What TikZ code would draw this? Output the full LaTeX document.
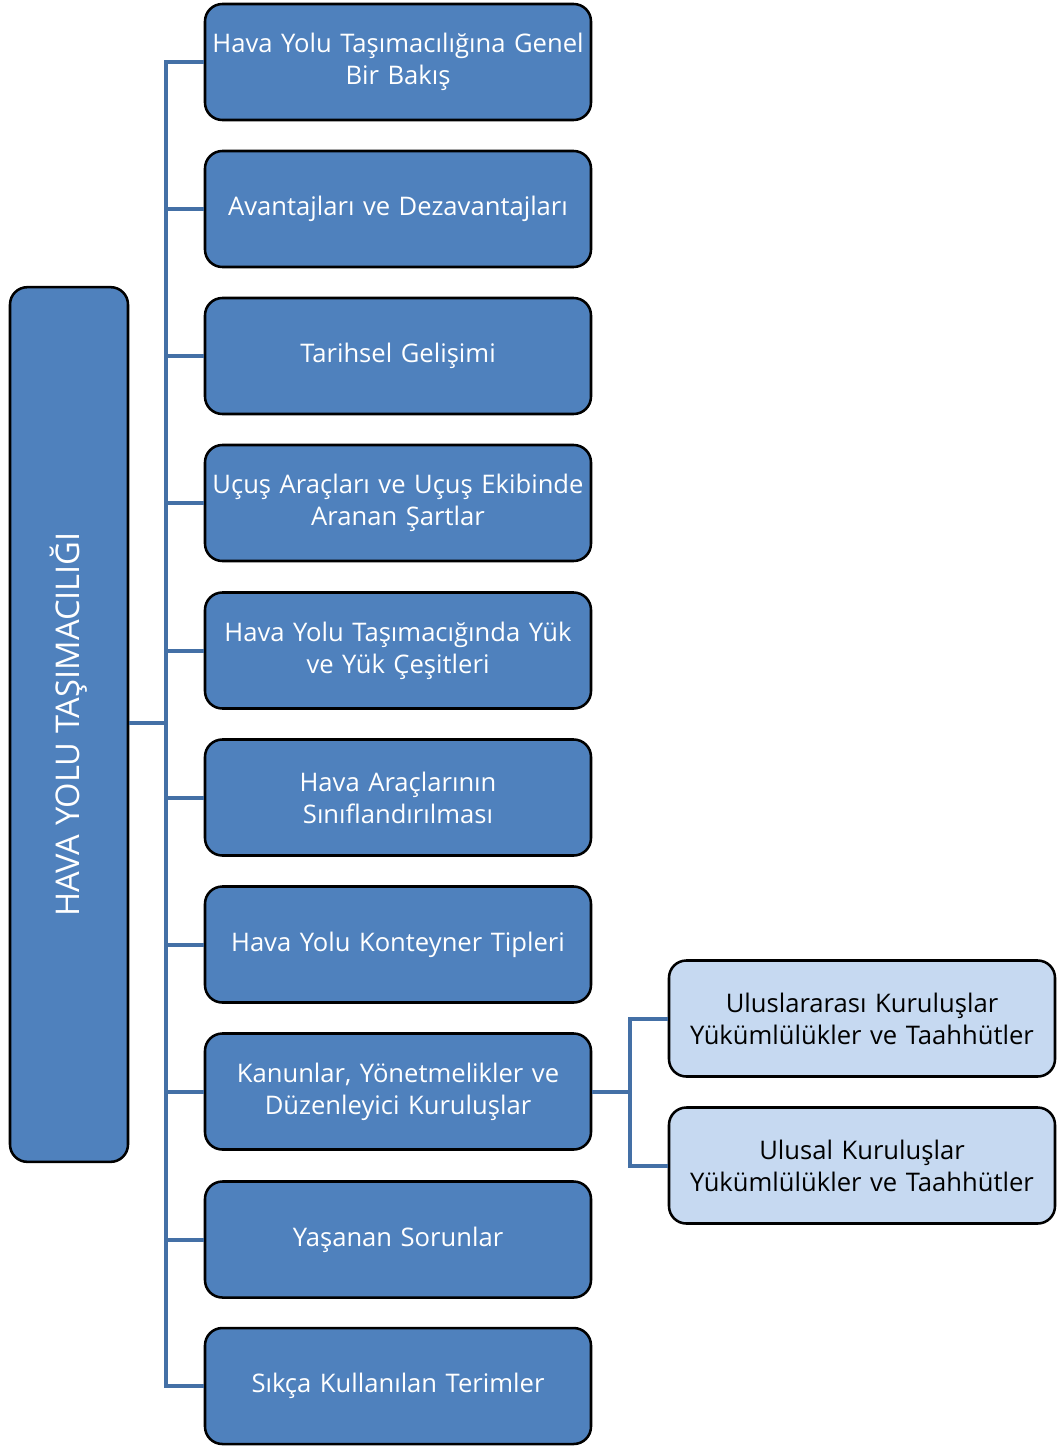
\documentclass[tikz,border=0pt]{standalone}
\usepackage{fontspec}
\setmainfont{Open Sans}
\begin{document}
\begin{tikzpicture}[x=0.75pt,y=-0.75pt,
  mainbox/.style={draw=black,line width=1.9pt,fill=boxblue,rounded corners=13pt,
    minimum width=289.5pt,minimum height=87pt,text width=287pt,align=center,
    text=white,font=\fontsize{19.2}{24}\selectfont,inner sep=0pt},
  subbox/.style={mainbox,fill=lightblue,text=black},
  conn/.style={draw=lineblue,line width=3pt}]
\definecolor{boxblue}{HTML}{4F81BD}
\definecolor{lightblue}{HTML}{C6D9F1}
\definecolor{lineblue}{HTML}{4470A6}
\useasboundingbox (0,0) rectangle (1059,1446);
\node[mainbox,minimum width=88.5pt,minimum height=656pt,text width=80pt] (L) at (69,724.5)
  {\rotatebox{90}{\fontsize{24.5}{28}\selectfont HAVA YOLU TAŞIMACILIĞI}};
\node[mainbox] (b1) at (398,62) {Hava Yolu Taşımacılığına Genel\\Bir Bakış};
\node[mainbox] (b2) at (398,209) {Avantajları ve Dezavantajları};
\node[mainbox] (b3) at (398,356) {Tarihsel Gelişimi};
\node[mainbox] (b4) at (398,503) {Uçuş Araçları ve Uçuş Ekibinde\\Aranan Şartlar};
\node[mainbox] (b5) at (398,650.5) {Hava Yolu Taşımacığında Yük\\ve Yük Çeşitleri};
\node[mainbox] (b6) at (398,797.5) {Hava Araçlarının\\Sınıflandırılması};
\node[mainbox] (b7) at (398,944.5) {Hava Yolu Konteyner Tipleri};
\node[mainbox] (b8) at (398,1091.5) {Kanunlar, Yönetmelikler ve\\Düzenleyici Kuruluşlar};
\node[mainbox] (b9) at (398,1239.5) {Yaşanan Sorunlar};
\node[mainbox] (b10) at (398,1386) {Sıkça Kullanılan Terimler};
\node[subbox] (s1) at (862,1018.5) {Uluslararası Kuruluşlar\\Yükümlülükler ve Taahhütler};
\node[subbox] (s2) at (862,1165.5) {Ulusal Kuruluşlar\\Yükümlülükler ve Taahhütler};
% connectors
\coordinate (j) at (166,723);
\coordinate (k) at (630,1092);
\draw[conn] (L.east |- j) -- (j);
\draw[conn,line cap=rect] (j |- b1.west) -- (j |- b10.west);
\foreach \b in {b1,b2,b3,b4,b5,b6,b7,b8,b9,b10}
  \draw[conn] (j |- \b.west) -- (\b.west);
\draw[conn] (b8.east) -- (k |- b8.east);
\draw[conn,line cap=rect] (k |- s1.west) -- (k |- s2.west);
\draw[conn] (k |- s1.west) -- (s1.west);
\draw[conn] (k |- s2.west) -- (s2.west);
\end{tikzpicture}
\end{document}
